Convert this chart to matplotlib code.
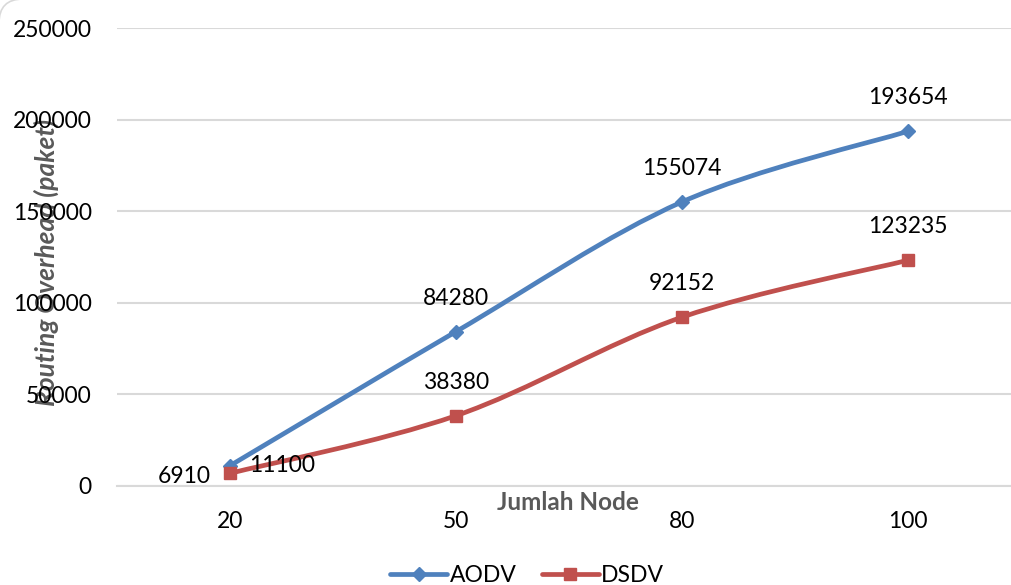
import matplotlib.pyplot as plt
from matplotlib.path import Path
from matplotlib.patches import PathPatch, FancyBboxPatch
from matplotlib.transforms import IdentityTransform

# jumlah node vs routing overhead
nodes = ["20", "50", "80", "100"]
aodv = [11100, 84280, 155074, 193654]
dsdv = [6910, 38380, 92152, 123235]
yticks = [0, 50000, 100000, 150000, 200000, 250000]

blue = "#4F81BD"
red = "#C0504D"
gray_text = "#595959"
grid_col = "#D9D9D9"

plt.rcParams['font.family'] = ['Lato', 'DejaVu Sans']


def smooth_path(xs, ys, tension=1/6):
    # cubic bezier through every point, like a smoothed office chart line
    verts = [(xs[0], ys[0])]
    codes = [Path.MOVETO]
    n = len(xs)
    for i in range(n - 1):
        x0, y0 = (xs[i - 1], ys[i - 1]) if i > 0 else (xs[i], ys[i])
        x1, y1 = xs[i], ys[i]
        x2, y2 = xs[i + 1], ys[i + 1]
        x3, y3 = (xs[i + 2], ys[i + 2]) if i + 2 < n else (x2, y2)
        c1 = (x1 + (x2 - x0) * tension, y1 + (y2 - y0) * tension)
        c2 = (x2 - (x3 - x1) * tension, y2 - (y3 - y1) * tension)
        verts += [c1, c2, (x2, y2)]
        codes += [Path.CURVE4] * 3
    return Path(verts, codes)


fig = plt.figure(figsize=(10.12, 5.85), dpi=100)
ax = fig.add_axes([117 / 1012, 1 - 486 / 585, 904 / 1012, 458 / 585])
ax.set_facecolor("none")

xs = list(range(len(nodes)))
for vals, col, mk, ms, name in [(aodv, blue, "D", 7, "AODV"), (dsdv, red, "s", 9, "DSDV")]:
    ax.add_patch(PathPatch(smooth_path(xs, vals), facecolor="none", edgecolor=col,
                           lw=3.4, capstyle="round", joinstyle="round", zorder=3))
    ax.plot(xs, vals, linestyle="none", marker=mk, ms=ms, color=col, zorder=4)
    # legend handle only
    ax.plot([], [], color=col, lw=3.4, marker=mk, ms=ms, solid_capstyle="round", label=name)

# value labels
for i, v in enumerate(aodv):
    if i == 0:
        ax.annotate(str(v), (i, v), xytext=(14, 0), textcoords="offset points",
                    ha="left", va="center", fontsize=16.5)
    else:
        ax.annotate(str(v), (i, v), xytext=(0, 24), textcoords="offset points",
                    ha="center", va="center", fontsize=16.5)
for i, v in enumerate(dsdv):
    if i == 0:
        ax.annotate(str(v), (i, v), xytext=(-14, -2), textcoords="offset points",
                    ha="right", va="center", fontsize=16.5)
    else:
        ax.annotate(str(v), (i, v), xytext=(0, 24), textcoords="offset points",
                    ha="center", va="center", fontsize=16.5)

ax.set_xlim(-0.5, len(nodes) - 0.5)
ax.set_ylim(0, 250000)
ax.set_xticks(xs)
ax.set_xticklabels(nodes)
ax.set_yticks(yticks)
ax.set_yticklabels([str(t) for t in yticks])
ax.tick_params(length=0, labelsize=16.5, labelcolor="black")
ax.tick_params(axis="y", pad=18)
ax.tick_params(axis="x", pad=18)
ax.grid(axis="y", color=grid_col, lw=1.5)
ax.set_axisbelow(True)
for s in ["top", "right", "left"]:
    ax.spines[s].set_visible(False)
ax.spines["bottom"].set_color(grid_col)
ax.spines["bottom"].set_linewidth(1.5)

fig.text(568 / 1012, 1 - 503 / 585, "Jumlah Node", ha="center", va="center",
         fontsize=17.5, fontweight="bold", color=gray_text)
fig.text(46 / 1012, 1 - 262 / 585, "Routing Overhead (paket)", ha="center", va="center",
         rotation=90, fontsize=19, fontweight="bold", fontstyle="italic",
         color=gray_text, zorder=-1)

ax.legend(loc="center", bbox_to_anchor=(527 / 1012, 1 - 576 / 585),
          bbox_transform=fig.transFigure, ncol=2, frameon=False, fontsize=16.5,
          handlelength=2.5, handletextpad=0.1, columnspacing=1.1)

# chart area border, only its rounded top-left corner shows
fig.patches.append(FancyBboxPatch((-1, -200), 1300, 786,
                                  boxstyle="round,pad=0,rounding_size=24",
                                  transform=IdentityTransform(), facecolor="none",
                                  edgecolor="#D9D9D9", lw=1.2, zorder=-2))

fig.savefig("out.png", dpi=100)
